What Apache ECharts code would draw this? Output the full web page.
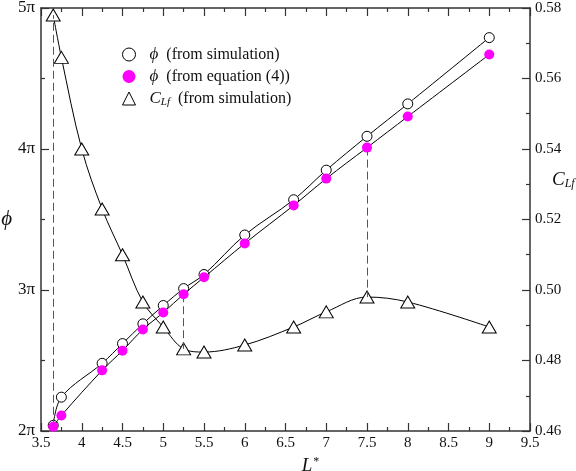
<!DOCTYPE html>
<html>
<head>
<meta charset="utf-8">
<script src="https://cdn.jsdelivr.net/npm/echarts@6/dist/echarts.min.js"></script>
<style>
  html, body { margin: 0; padding: 0; background: #fff; }
  #chart { width: 576px; height: 471px; }
</style>
</head>
<body>
<div id="chart"></div>
<script>
// phi (units of pi) vs L*
const phiX = [3.65, 3.75, 4.25, 4.5, 4.75, 5, 5.25, 5.5, 6, 6.6, 7, 7.5, 8, 9];
const phiSim = [2.04, 2.24, 2.48, 2.62, 2.76, 2.89, 3.01, 3.11, 3.39, 3.64, 3.85, 4.09, 4.32, 4.79];
const phiEq = [2.03, 2.11, 2.43, 2.57, 2.72, 2.84, 2.97, 3.09, 3.33, 3.60, 3.79, 4.01, 4.23, 4.67];

// C_Lf vs L*
const clfX = [3.65, 3.75, 4, 4.25, 4.5, 4.75, 5, 5.25, 5.5, 6, 6.6, 7, 7.5, 8, 9];
const clfSim = [0.578, 0.566, 0.540, 0.523, 0.510, 0.4966, 0.4895, 0.4833, 0.4824, 0.4844, 0.4895, 0.4938, 0.498, 0.4966, 0.4895];

// dashed connectors between phi and C_Lf points
const dashX = [3.65, 5.25, 7.5];

const PHI_MIN = 2, PHI_MAX = 5;
const CLF_MIN = 0.46, CLF_MAX = 0.58;

const serif = 'Liberation Serif';
const ink = '#111';
const PHI = '\u03D5';

// map a C_Lf value onto the left (phi) axis scale
function clfOnPhi(c) {
  return PHI_MIN + (c - CLF_MIN) / (CLF_MAX - CLF_MIN) * (PHI_MAX - PHI_MIN);
}

const dashData = dashX.map(x => {
  const p = phiEq[phiX.indexOf(x)];
  const c = clfSim[clfX.indexOf(x)];
  return [{ coord: [x, p] }, { coord: [x, clfOnPhi(c)] }];
});

const axisCommon = {
  axisLine: { lineStyle: { color: '#333', width: 1.5 } },
  axisTick: { inside: true, length: 8, lineStyle: { color: '#333', width: 1.2 } },
  minorTick: { show: true, splitNumber: 2, length: 4, lineStyle: { color: '#333', width: 1.2 } },
  splitLine: { show: false },
  axisLabel: { color: ink, fontFamily: serif, fontSize: 15 }
};

const chart = echarts.init(document.getElementById('chart'));

chart.setOption({
  animation: false,
  grid: { left: 41, right: 46, top: 8, bottom: 40, outerBoundsMode: 'none' },
  legend: {
    orient: 'vertical',
    left: 117,
    top: 41,
    itemGap: 5,
    itemWidth: 13,
    itemHeight: 13,
    textStyle: {
      fontFamily: serif, fontSize: 16, color: ink, lineHeight: 16,
      rich: {
        i: { fontFamily: serif, fontStyle: 'italic', fontSize: 17, color: ink, padding: [0, 0, 0, 9] },
        sub: { fontFamily: serif, fontStyle: 'italic', fontSize: 11, color: ink, padding: [8, 0, 0, 0] }
      }
    },
    formatter: function (name) {
      if (name === 'sim') return '{i|' + PHI + '}  (from simulation)';
      if (name === 'eq') return '{i|' + PHI + '}  (from equation (4))';
      return '{i|C}{sub|Lf}  (from simulation)';
    },
    data: [
      { name: 'sim', icon: 'circle', itemStyle: { color: '#fff', borderColor: '#000', borderWidth: 1 } },
      { name: 'eq', icon: 'circle', itemStyle: { color: '#ff00ff', borderWidth: 0 } },
      { name: 'clf', icon: 'triangle', itemStyle: { color: '#fff', borderColor: '#000', borderWidth: 1 } }
    ]
  },
  xAxis: [
    Object.assign({}, axisCommon, {
      type: 'value', min: 3.5, max: 9.5, interval: 0.5, position: 'bottom',
      axisLabel: Object.assign({}, axisCommon.axisLabel, { margin: 5 }),
      name: '{i|L}{sup|*}',
      nameLocation: 'middle',
      nameGap: 22,
      nameTextStyle: {
        padding: [0, 0, 0, 50],
        rich: {
          i: { fontFamily: serif, fontStyle: 'italic', fontSize: 19, color: ink },
          sup: { fontFamily: serif, fontSize: 12, color: ink, padding: [0, 0, 9, 1] }
        }
      }
    }),
    Object.assign({}, axisCommon, {
      type: 'value', min: 3.5, max: 9.5, interval: 0.5, position: 'top',
      axisLabel: { show: false }
    })
  ],
  yAxis: [
    Object.assign({}, axisCommon, {
      type: 'value', min: PHI_MIN, max: PHI_MAX, interval: 1, position: 'left',
      axisLabel: Object.assign({}, axisCommon.axisLabel, {
        fontSize: 17, margin: 6,
        formatter: v => v + 'π'
      }),
      name: PHI,
      nameLocation: 'middle',
      nameRotate: 0,
      nameGap: 20,
      nameTextStyle: { fontFamily: serif, fontStyle: 'italic', fontSize: 21, color: ink }
    }),
    Object.assign({}, axisCommon, {
      type: 'value', min: CLF_MIN, max: CLF_MAX, interval: 0.02, position: 'right',
      axisLabel: Object.assign({}, axisCommon.axisLabel, {
        margin: 5,
        formatter: v => v.toFixed(2)
      }),
      name: '{i|C}{sub|Lf}',
      nameLocation: 'middle',
      nameRotate: 0,
      nameGap: 22,
      nameMoveOverlap: false,
      nameTextStyle: {
        padding: [0, 0, 80, 0],
        rich: {
          i: { fontFamily: serif, fontStyle: 'italic', fontSize: 19, color: ink },
          sub: { fontFamily: serif, fontStyle: 'italic', fontSize: 12, color: ink, padding: [9, 0, 0, 0] }
        }
      }
    })
  ],
  series: [
    {
      name: 'clf',
      type: 'line',
      xAxisIndex: 0,
      yAxisIndex: 1,
      data: clfX.map((x, i) => [x, clfSim[i]]),
      smooth: 0.35,
      symbol: 'triangle',
      symbolSize: [14, 12],
      lineStyle: { color: '#000', width: 1 },
      itemStyle: { color: '#fff', borderColor: '#000', borderWidth: 1 },
      z: 3
    },
    {
      name: 'sim',
      type: 'line',
      xAxisIndex: 0,
      yAxisIndex: 0,
      data: phiX.map((x, i) => [x, phiSim[i]]),
      smooth: 0.35,
      symbol: 'circle',
      symbolSize: 10,
      lineStyle: { color: '#000', width: 1 },
      itemStyle: { color: '#fff', borderColor: '#000', borderWidth: 1 },
      markLine: {
        silent: true,
        symbol: ['none', 'none'],
        label: { show: false },
        lineStyle: { color: '#555', type: [8, 4], width: 1 },
        data: dashData
      },
      z: 4
    },
    {
      name: 'eq',
      type: 'line',
      xAxisIndex: 0,
      yAxisIndex: 0,
      data: phiX.map((x, i) => [x, phiEq[i]]),
      smooth: 0.35,
      symbol: 'circle',
      symbolSize: 10,
      lineStyle: { color: '#000', width: 1 },
      itemStyle: { color: '#ff00ff', borderWidth: 0 },
      z: 5
    }
  ]
});
</script>
</body>
</html>
